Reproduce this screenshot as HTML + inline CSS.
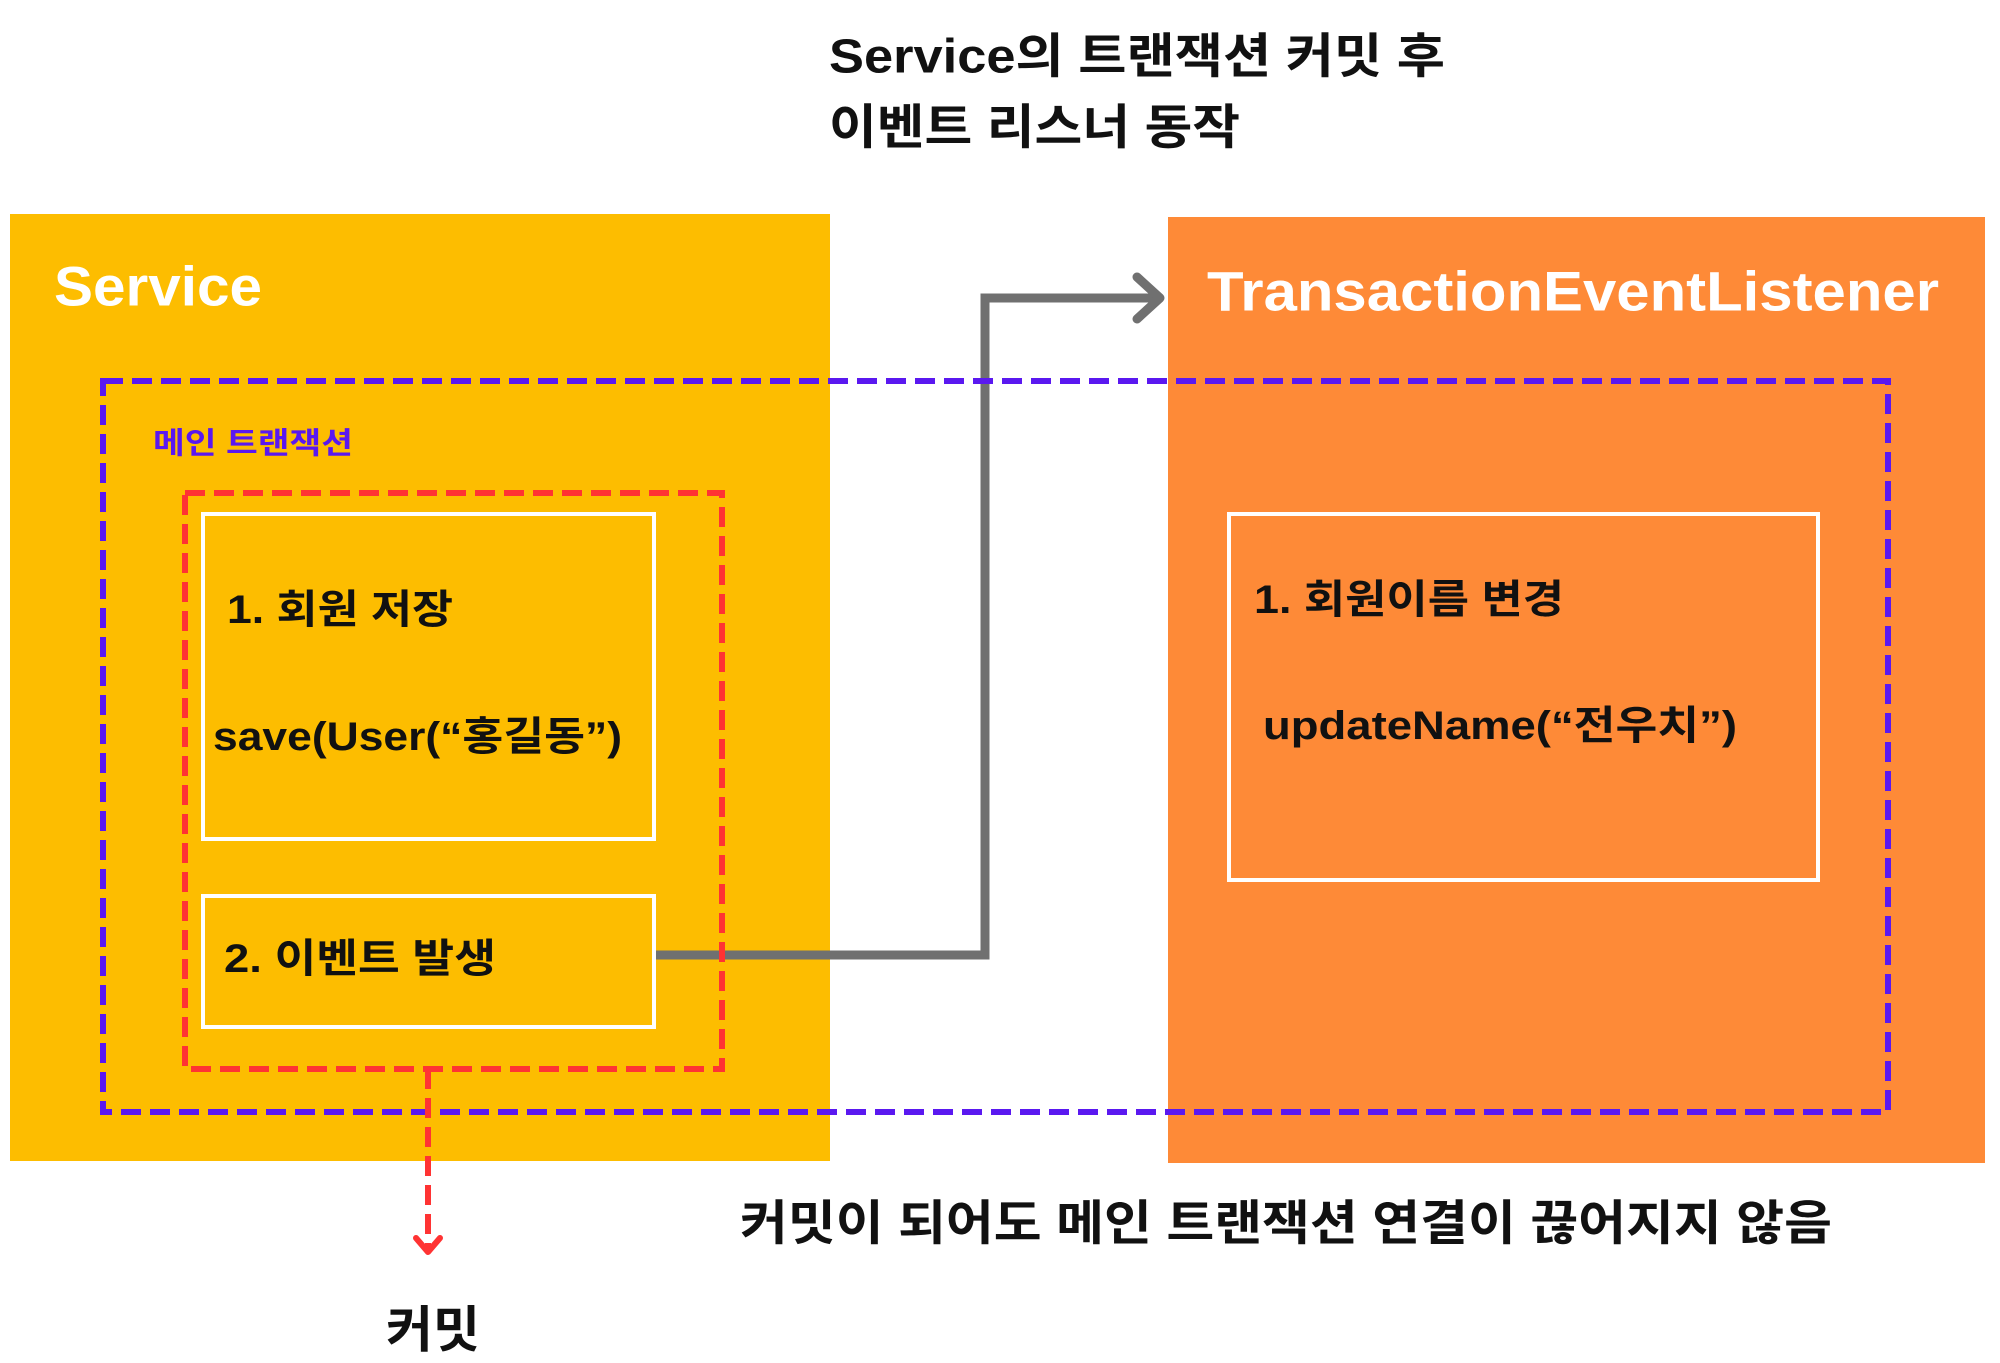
<!DOCTYPE html>
<html><head><meta charset="utf-8"><style>
html,body{margin:0;padding:0;background:#fff;}
svg{display:block;}
text{font-family:"Liberation Sans","Noto Sans CJK KR",sans-serif;font-weight:bold;dominant-baseline:central;}
</style></head><body>
<svg width="2000" height="1363" viewBox="0 0 2000 1363" xmlns="http://www.w3.org/2000/svg">
<rect x="0" y="0" width="2000" height="1363" fill="#fff"/>
<text x="829" y="57" font-size="48" fill="#111" textLength="616" lengthAdjust="spacingAndGlyphs">Service의 트랜잭션 커밋 후</text>
<text x="829" y="128" font-size="48" fill="#111" textLength="411" lengthAdjust="spacingAndGlyphs">이벤트 리스너 동작</text>

<rect x="10" y="214" width="820" height="947" fill="#FDBD00"/>
<rect x="1168" y="217" width="817" height="946" fill="#FE8A37"/>

<text x="54" y="286" font-size="56" fill="#fff" textLength="208" lengthAdjust="spacingAndGlyphs">Service</text>
<text x="1207" y="291" font-size="56" fill="#fff" textLength="732" lengthAdjust="spacingAndGlyphs">TransactionEventListener</text>

<polyline points="654,955 985,955 985,298 1158,298" fill="none" stroke="#707070" stroke-width="9"/>
<polyline points="1137,277 1160,298 1137,319" fill="none" stroke="#707070" stroke-width="9" stroke-linecap="round" stroke-linejoin="round"/>

<rect x="103" y="381" width="1785" height="731" fill="none" stroke="#5A18F0" stroke-width="6" stroke-dasharray="20 9"/>
<text x="153" y="444" font-size="30" fill="#5A18F0" textLength="200" lengthAdjust="spacingAndGlyphs">메인 트랜잭션</text>

<rect x="185" y="493" width="537" height="576" fill="none" stroke="#FF3333" stroke-width="6" stroke-dasharray="20 9"/>
<line x1="428" y1="1069" x2="428" y2="1250" stroke="#FF3333" stroke-width="6" stroke-dasharray="20 9"/>
<polyline points="416,1238 428,1252 440,1238" fill="none" stroke="#FF3333" stroke-width="6" stroke-linecap="round" stroke-linejoin="round"/>
<text x="386" y="1330" font-size="50" fill="#111" textLength="94" lengthAdjust="spacingAndGlyphs">커밋</text>

<rect x="203" y="514" width="451" height="325" fill="none" stroke="#fff" stroke-width="4"/>
<rect x="203" y="896" width="451" height="131" fill="none" stroke="#fff" stroke-width="4"/>
<rect x="1229" y="514" width="589" height="366" fill="none" stroke="#fff" stroke-width="4"/>

<text x="227" y="610" font-size="40" fill="#111" textLength="226" lengthAdjust="spacingAndGlyphs">1. 회원 저장</text>
<text x="213" y="737" font-size="40" fill="#111" textLength="409" lengthAdjust="spacingAndGlyphs">save(User(“홍길동”)</text>
<text x="224" y="959" font-size="40" fill="#111" textLength="272" lengthAdjust="spacingAndGlyphs">2. 이벤트 발생</text>
<text x="1254" y="600" font-size="40" fill="#111" textLength="310" lengthAdjust="spacingAndGlyphs">1. 회원이름 변경</text>
<text x="1263" y="726" font-size="40" fill="#111" textLength="474" lengthAdjust="spacingAndGlyphs">updateName(“전우치”)</text>

<text x="740" y="1224" font-size="48" fill="#111" textLength="1092" lengthAdjust="spacingAndGlyphs">커밋이 되어도 메인 트랜잭션 연결이 끊어지지 않음</text>
</svg>
</body></html>
